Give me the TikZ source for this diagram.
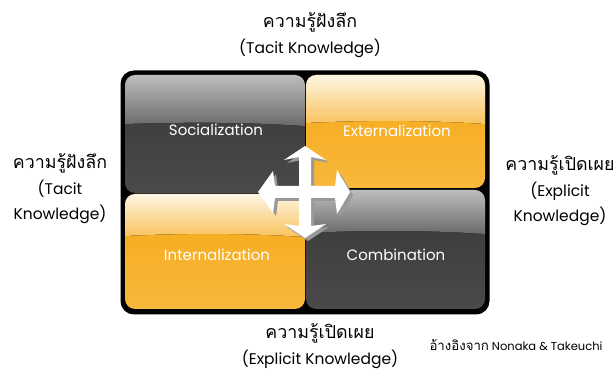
\documentclass[tikz,border=0pt]{standalone}
\usepackage{fontspec}
\setmainfont{Poppins}
\newfontfamily\thaifont[Script=Thai,Scale=1.15]{Loma}
\usetikzlibrary{positioning}
\definecolor{glosslight}{HTML}{BDBDBD}
\definecolor{glossmid}{HTML}{6A6A6A}
\definecolor{darkface}{HTML}{383838}
\definecolor{darkfoot}{HTML}{4A4A4A}
\definecolor{cream}{HTML}{FEF5E3}
\definecolor{paleorange}{HTML}{F9C35C}
\definecolor{deeporange}{HTML}{F5A817}
\definecolor{footorange}{HTML}{F8B83C}
\tikzset{
  darklow/.style={top color=darkface, bottom color=darkfoot},
  darkhigh/.style={top color=glosslight, bottom color=glossmid},
  orangelow/.style={top color=deeporange, bottom color=footorange},
  orangehigh/.style={top color=cream, bottom color=paleorange},
  tilelabel/.style={text=white, font=\fontsize{15}{18}\selectfont},
  sidelabel/.style={align=center, font=\fontsize{15.5}{25.5}\selectfont}
}
\begin{document}
\begin{tikzpicture}[x=1pt,y=-1pt]
\useasboundingbox[fill=white] (0,0) rectangle (616,371);
% frame
\draw[line width=3pt, rounded corners=12pt, fill=black] (122,72) rectangle (488,313);
% Socialization
\begin{scope}
\clip[rounded corners=10pt] (125,75) rectangle (305,193);
\fill[darklow] (125,75) rectangle (305,193);
\fill[darkhigh] (125,75) -- (305,75) -- (305,126) .. controls (245,122) and (185,122) .. (125,124) -- cycle;
\end{scope}
% Externalization
\begin{scope}
\clip[rounded corners=10pt] (306,75) rectangle (485,188);
\fill[orangelow] (306,75) rectangle (485,188);
\fill[orangehigh] (306,75) -- (485,75) -- (485,124) .. controls (425,120) and (365,120) .. (306,123) -- cycle;
\end{scope}
% Internalization
\begin{scope}
\clip[rounded corners=10pt] (125,194) rectangle (305,309);
\fill[orangelow] (125,194) rectangle (305,309);
\fill[orangehigh] (125,194) -- (305,194) -- (305,237) .. controls (245,233) and (185,233) .. (125,236) -- cycle;
\end{scope}
% Combination
\begin{scope}
\clip[rounded corners=10pt] (306,190) rectangle (485,309);
\fill[darklow] (306,190) rectangle (485,309);
\fill[darkhigh] (306,190) -- (485,190) -- (485,234) .. controls (425,230) and (365,230) .. (306,233) -- cycle;
\end{scope}
\node[tilelabel] (soc) at (216,130) {Socialization};
\node[tilelabel] (ext) at (397,131) {Externalization};
\node[tilelabel] (int) at (217,255) {Internalization};
\node[tilelabel] (com) at (396,255) {Combination};
% four-way arrow with its shadow
\foreach \d/\c in {3/black!40, 0/white}
  \fill[\c, shift={(\d,\d)}] (305,146) -- (326,160) -- (311,157) -- (311,186) -- (335,186) -- (337,170)
    -- (350,192) -- (337,214) -- (335,198) -- (311,198) -- (311,226) -- (326,224)
    -- (305,238) -- (284,224) -- (299,226) -- (299,198) -- (275,198) -- (273,213)
    -- (258,192) -- (273,171) -- (275,186) -- (299,186) -- (299,157) -- (284,160) -- cycle;
% outer labels
\node[sidelabel] (tacittop) at (310,35) {{\thaifont ความรู้ฝังลึก}\\(Tacit Knowledge)};
\node[sidelabel] (tacitleft) at (60,189) {{\thaifont ความรู้ฝังลึก}\\(Tacit\\Knowledge)};
\node[sidelabel] (explright) at (560,191) {{\thaifont ความรู้เปิดเผย}\\(Explicit\\Knowledge)};
\node[sidelabel] (explbottom) at (320,346) {{\thaifont ความรู้เปิดเผย}\\(Explicit Knowledge)};
\node[font=\fontsize{11.5}{13}\selectfont] (source) at (516,345) {{\thaifont อ้างอิงจาก} Nonaka \& Takeuchi};
\end{tikzpicture}
\end{document}
